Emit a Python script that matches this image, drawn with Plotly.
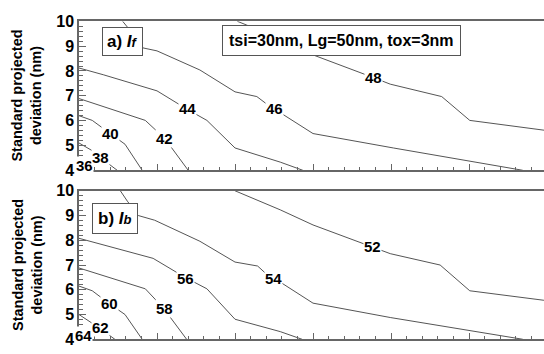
import plotly.graph_objects as go

# ---------------- data (x in major-tick units, y in nm) ----------------
top_levels = ["36", "38", "40", "42", "44", "46", "48"]
top_x = [
    [0.0, 0.15],
    [0.0, 0.17, 0.27, 0.49],
    [0.0, 0.17, 0.40, 0.59, 0.81],
    [0.0, 0.85, 1.10, 1.40],
    [0.0, 0.31, 1.0, 1.38, 1.64, 2.0, 2.58, 2.87],
    [0.56, 0.62, 0.82, 1.0, 1.55, 2.0, 2.28, 2.49, 2.58, 3.0, 4.03, 5.01, 5.69],
    [2.03, 2.15, 2.99, 3.69, 3.77, 3.99, 4.65, 5.01, 5.95, 6.0],
]
top_y = [
    [4.35, 4.0],
    [5.1, 4.79, 4.52, 4.0],
    [6.2, 6.01, 5.48, 5.05, 4.0],
    [6.89, 6.01, 5.28, 4.0],
    [8.12, 7.85, 7.2, 6.47, 6.01, 4.9, 4.33, 4.0],
    [10.0, 9.77, 8.93, 8.81, 8.04, 7.16, 6.97, 6.47, 6.32, 5.48, 4.9, 4.36, 4.0],
    [10.0, 9.85, 8.66, 7.85, 7.74, 7.47, 6.97, 6.01, 5.63, 5.6],
]
top_label_x = [0.07, 0.27, 0.40, 1.10, 1.39, 2.51, 3.77]
top_label_y = [4.21, 4.50, 5.48, 5.28, 6.47, 6.47, 7.74]

bot_levels = ["64", "62", "60", "58", "56", "54", "52"]
bot_x = [
    [0.0, 0.15],
    [0.0, 0.24, 0.46],
    [0.0, 0.17, 0.38, 0.59, 0.81],
    [0.0, 0.85, 1.08, 1.38],
    [0.0, 0.95, 1.36, 1.64, 2.0, 2.58, 2.86],
    [0.53, 0.62, 0.76, 0.97, 1.55, 2.0, 2.29, 2.45, 2.58, 3.0, 3.99, 4.97, 5.69],
    [2.0, 2.58, 3.0, 3.76, 3.99, 4.63, 5.01, 5.95, 6.0],
]
bot_y = [
    [4.35, 4.0],
    [5.0, 4.5, 4.0],
    [6.15, 5.96, 5.46, 5.0, 4.0],
    [6.88, 6.04, 5.27, 4.0],
    [8.08, 7.27, 6.5, 6.04, 4.81, 4.31, 4.0],
    [10.0, 9.58, 9.0, 8.81, 7.96, 7.12, 6.96, 6.5, 6.31, 5.46, 4.88, 4.38, 4.0],
    [10.0, 9.23, 8.62, 7.73, 7.46, 7.0, 5.96, 5.58, 5.56],
]
bot_label_x = [0.06, 0.27, 0.39, 1.09, 1.36, 2.49, 3.76]
bot_label_y = [4.17, 4.46, 5.46, 5.23, 6.46, 6.46, 7.73]

y_ticks = [4, 5, 6, 7, 8, 9, 10]

# ---------------- figure ----------------
W, H = 544, 354
FONT = "Arial, Liberation Sans, sans-serif"
LINE_COLOR = "#555555"
AXIS_COLOR = "#666666"

fig = go.Figure()

for xs, ys in zip(top_x, top_y):
    fig.add_trace(go.Scatter(x=xs, y=ys, mode="lines", xaxis="x", yaxis="y",
                             line=dict(color=LINE_COLOR, width=1), hoverinfo="skip",
                             showlegend=False))
for xs, ys in zip(bot_x, bot_y):
    fig.add_trace(go.Scatter(x=xs, y=ys, mode="lines", xaxis="x2", yaxis="y2",
                             line=dict(color=LINE_COLOR, width=1), hoverinfo="skip",
                             showlegend=False))

x_left = 79
x_dom = [x_left / W, 1.0]
x_range = [0, (W - x_left) / 78.0]

top_dom = [(H - 170.5) / H, (H - 14) / H]
bot_dom = [(H - 348) / H, (H - 192) / H]

def xaxis_cfg(anchor):
    return dict(domain=x_dom, range=x_range, anchor=anchor, showgrid=False,
                zeroline=False, showline=True, linecolor=AXIS_COLOR, linewidth=1.5,
                mirror=True, ticks="inside", ticklen=7, tickcolor=AXIS_COLOR,
                tickwidth=1, dtick=1, tick0=0, showticklabels=False,
                minor=dict(ticks="inside", ticklen=4, dtick=0.2, tickcolor=AXIS_COLOR,
                           tickwidth=1, showgrid=False))

def yaxis_cfg(anchor, dom):
    return dict(domain=dom, range=[4, 10], anchor=anchor, showgrid=False,
                zeroline=False, showline=True, linecolor=AXIS_COLOR, linewidth=1.5,
                mirror=False, ticks="inside", ticklen=7, tickcolor=AXIS_COLOR,
                tickwidth=1, tickmode="array", tickvals=y_ticks,
                ticktext=[f"<b>{v}</b>" for v in y_ticks],
                tickfont=dict(family=FONT, size=16, color="#000"),
                minor=dict(ticks="inside", ticklen=4, dtick=0.2, tickcolor=AXIS_COLOR,
                           tickwidth=1, showgrid=False))

annotations = []
for lab, lx, ly in zip(top_levels, top_label_x, top_label_y):
    annotations.append(dict(x=lx, y=ly, xref="x", yref="y", text=f"<b>{lab}</b>",
                            showarrow=False, bgcolor="white", borderpad=0,
                            xanchor="center", yanchor="middle",
                            font=dict(family=FONT, size=15, color="#000")))
for lab, lx, ly in zip(bot_levels, bot_label_x, bot_label_y):
    annotations.append(dict(x=lx, y=ly, xref="x2", yref="y2", text=f"<b>{lab}</b>",
                            showarrow=False, bgcolor="white", borderpad=0,
                            xanchor="center", yanchor="middle",
                            font=dict(family=FONT, size=15, color="#000")))

# panel labels
annotations.append(dict(x=122.5 / W, y=(H - 35) / H, xref="paper", yref="paper",
                        xanchor="center", yanchor="middle",
                        text="<b>a) <i>I<span style='font-size:13px'>f</span></i></b>",
                        showarrow=False,
                        bgcolor="white", bordercolor="#555", borderwidth=1, borderpad=4,
                        font=dict(family=FONT, size=17, color="#000")))
annotations.append(dict(x=115 / W, y=(H - 221.5) / H, xref="paper", yref="paper",
                        xanchor="center", yanchor="middle",
                        text="<b>b) <i>I<span style='font-size:13px'>b</span></i></b>",
                        showarrow=False,
                        bgcolor="white", bordercolor="#555", borderwidth=1, borderpad=5,
                        font=dict(family=FONT, size=17, color="#000")))
annotations.append(dict(x=341.5 / W, y=(H - 34.5) / H, xref="paper", yref="paper",
                        xanchor="center", yanchor="middle",
                        text="<b>tsi=30nm, Lg=50nm, tox=3nm</b>", showarrow=False,
                        bgcolor="white", bordercolor="#555", borderwidth=1, borderpad=6,
                        font=dict(family=FONT, size=16, color="#000")))

# y-axis titles
for yc in [92, 270]:
    annotations.append(dict(x=27 / W, y=(H - yc) / H, xref="paper", yref="paper",
                            xanchor="center", yanchor="middle",
                            text="<b>Standard projected<br>deviation (nm)</b>",
                            textangle=-90, showarrow=False,
                            font=dict(family=FONT, size=14.5, color="#000")))

fig.update_layout(
    width=W, height=H,
    margin=dict(l=0, r=0, t=0, b=0),
    paper_bgcolor="white", plot_bgcolor="white",
    xaxis=xaxis_cfg("y"), yaxis=yaxis_cfg("x", top_dom),
    xaxis2=xaxis_cfg("y2"), yaxis2=yaxis_cfg("x2", bot_dom),
    annotations=annotations,
    showlegend=False,
)

fig.write_html("out.html")
